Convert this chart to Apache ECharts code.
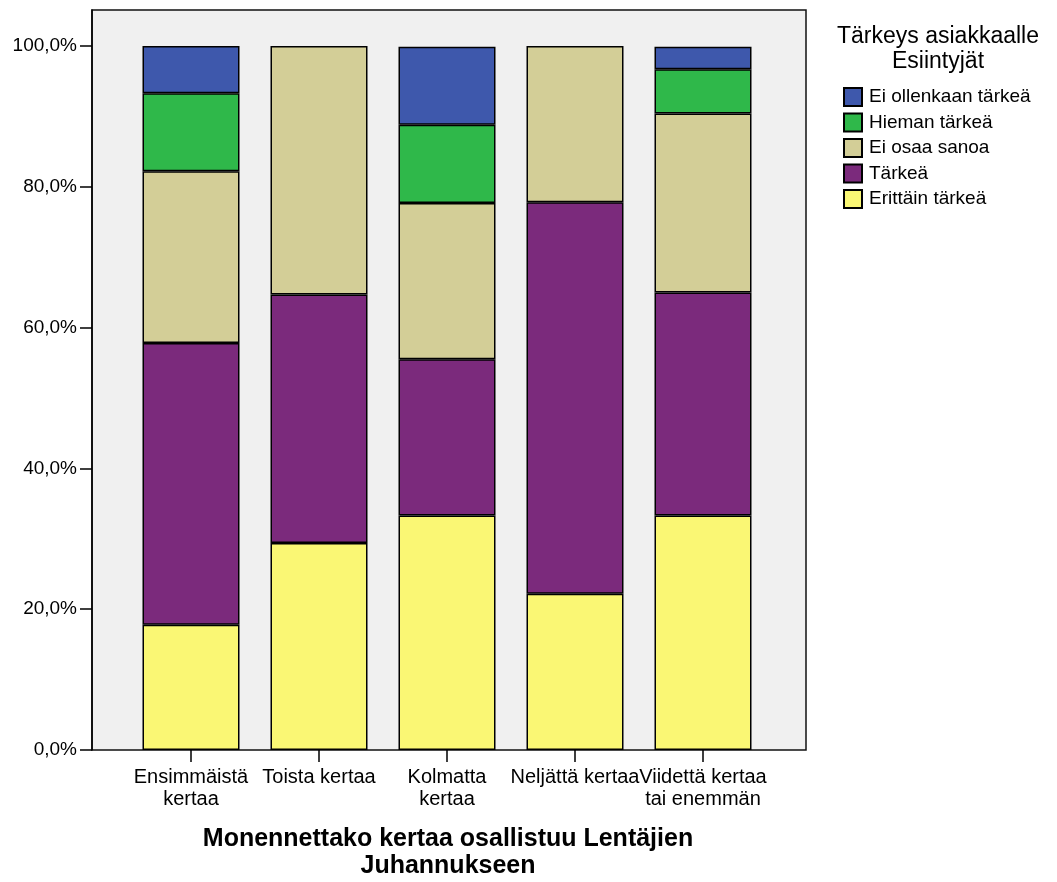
<!DOCTYPE html>
<html>
<head>
<meta charset="utf-8">
<script src="https://cdn.jsdelivr.net/npm/echarts@6/dist/echarts.min.js"></script>
<style>html,body{margin:0;padding:0;background:#fff;}#c{width:1057px;height:882px;}</style>
</head>
<body>
<div id="c"></div>
<script>
const categories = ['Ensimmäistä\nkertaa', 'Toista kertaa', 'Kolmatta\nkertaa', 'Neljättä kertaa', 'Viidettä kertaa\ntai enemmän'];
const seriesNames = ['Erittäin tärkeä', 'Tärkeä', 'Ei osaa sanoa', 'Hieman tärkeä', 'Ei ollenkaan tärkeä'];
const erittainTarkea = [17.8, 29.4, 33.3, 22.2, 33.3];
const tarkea = [40.0, 35.3, 22.2, 55.6, 31.7];
const eiOsaaSanoa = [24.4, 35.3, 22.2, 22.2, 25.4];
const hiemanTarkea = [11.1, 0, 11.1, 0, 6.3];
const eiOllenkaanTarkea = [6.7, 0, 11.1, 0, 3.2];
const colors = ['#faf774', '#7b2a7c', '#d3ce97', '#2fb84a', '#3e58ac'];
const legendTitle = 'Tärkeys asiakkaalle\nEsiintyjät';
const axisTitle = 'Monennettako kertaa osallistuu Lentäjien\nJuhannukseen';

const values = [erittainTarkea, tarkea, eiOsaaSanoa, hiemanTarkea, eiOllenkaanTarkea];
const FONT = 'Liberation Sans, Arial, sans-serif';

const chart = echarts.init(document.getElementById('c'), null, {renderer: 'canvas'});
chart.setOption({
  animation: false,
  backgroundColor: '#fff',
  textStyle: {fontFamily: FONT, color: '#000'},
  grid: [
    {left: 92, top: 10, width: 714, height: 740, show: true, backgroundColor: '#f0f0f0', borderColor: '#111', borderWidth: 1.5, containLabel: false},
    {left: 127, top: 46, width: 640, height: 704, containLabel: false}
  ],
  xAxis: [
    {gridIndex: 0, type: 'value', show: false, min: 0, max: 1},
    {gridIndex: 1, type: 'category', data: categories,
      axisLine: {show: false},
      axisTick: {show: true, alignWithLabel: true, length: 12, lineStyle: {color: '#000', width: 1.5}},
      axisLabel: {interval: 0, color: '#000', fontSize: 20, fontFamily: FONT, margin: 16, lineHeight: 22}
    }
  ],
  yAxis: [
    {gridIndex: 0, type: 'value', min: 0, max: 1, show: true,
      axisLine: {show: true, lineStyle: {color: '#000', width: 1.5}},
      axisTick: {show: false}, axisLabel: {show: false}, splitLine: {show: false}
    },
    {gridIndex: 1, type: 'value', min: 0, max: 100, interval: 20, offset: 35,
      axisLine: {show: false},
      axisTick: {show: true, length: 12, lineStyle: {color: '#000', width: 1.5}},
      splitLine: {show: false},
      axisLabel: {color: '#000', fontSize: 19, fontFamily: FONT, margin: 15,
        formatter: v => v.toFixed(1).replace('.', ',') + '%'}
    }
  ],
  legend: {
    orient: 'vertical', left: 838, top: 82,
    itemWidth: 18, itemHeight: 18, itemGap: 5.5,
    data: seriesNames.slice().reverse(),
    textStyle: {fontSize: 19, lineHeight: 18, color: '#000', fontFamily: FONT, padding: [0, 0, 0, 2]},
    icon: 'rect'
  },
  graphic: [
    {type: 'text', x: 938, y: 24, style: {text: legendTitle, textAlign: 'center', fontSize: 23, lineHeight: 25, fontFamily: FONT, fill: '#000'}},
    {type: 'text', x: 448, y: 826, style: {text: axisTitle, textAlign: 'center', fontSize: 25, fontWeight: 'bold', lineHeight: 27, fontFamily: FONT, fill: '#000'}}
  ],
  series: seriesNames.map((name, i) => ({
    name: name,
    type: 'bar',
    stack: 'total',
    xAxisIndex: 1,
    yAxisIndex: 1,
    barWidth: 97,
    data: values[i].map(v => (v === 0 ? null : v)),
    itemStyle: {color: colors[i], borderColor: '#000', borderWidth: 1.5}
  }))
});
</script>
</body>
</html>
